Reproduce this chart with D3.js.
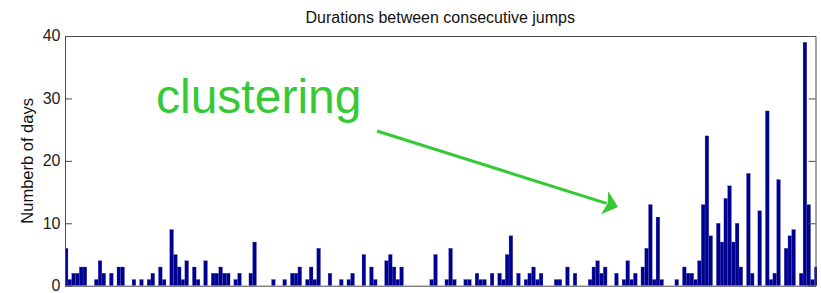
<!DOCTYPE html>
<html>
<head>
<meta charset="utf-8">
<script src="https://cdn.jsdelivr.net/npm/d3@7"></script>
<style>
  body { margin: 0; background: #fff; }
  text { font-family: "Liberation Sans", Arial, sans-serif; }
</style>
</head>
<body>
<div id="wrapper"></div>
<script>
// values, one per bar
const durations = [
  6, 1, 2, 2, 3, 3, 0, 0, 1, 4,
  2, 0, 2, 0, 3, 3, 0, 0, 1, 0,
  1, 0, 1, 2, 0, 3, 1, 0, 9, 5,
  3, 1, 4, 0, 3, 1, 0, 4, 0, 2,
  2, 3, 2, 2, 0, 1, 2, 0, 0, 2,
  7, 0, 0, 0, 0, 1, 0, 0, 1, 0,
  2, 2, 3, 0, 1, 3, 1, 6, 0, 0,
  2, 0, 0, 1, 0, 1, 2, 0, 0, 5,
  0, 3, 1, 0, 0, 4, 5, 3, 1, 3,
  0, 0, 0, 0, 0, 0, 0, 1, 5, 0,
  0, 1, 6, 1, 0, 0, 1, 1, 0, 2,
  1, 1, 0, 2, 0, 2, 1, 5, 8, 0,
  2, 0, 1, 2, 3, 1, 2, 0, 0, 0,
  1, 1, 0, 3, 0, 2, 0, 0, 0, 1,
  3, 4, 2, 3, 0, 0, 2, 0, 1, 4,
  1, 2, 0, 3, 6, 13, 1, 11, 1, 0,
  0, 0, 1, 0, 3, 2, 2, 1, 4, 13,
  24, 8, 0, 10, 7, 14, 16, 7, 10, 3,
  0, 18, 2, 0, 12, 0, 28, 1, 2, 17,
  0, 6, 8, 9, 0, 2, 39, 13, 1, 3
]
const yTicks = [0, 10, 20, 30, 40]
const titleText = "Durations between consecutive jumps"
const yLabelText = "Numberb of days"
const noteText = "clustering"

const dataset = durations.map((v, i) => ({ idx: i + 1, value: v }))

// dimensions
let dimensions = {
  width: 821,
  height: 293,
  margin: { top: 36, right: 5.5, bottom: 7.3, left: 65 },
}
dimensions.boundedWidth = dimensions.width - dimensions.margin.left - dimensions.margin.right
dimensions.boundedHeight = dimensions.height - dimensions.margin.top - dimensions.margin.bottom

const wrapper = d3.select("#wrapper")
  .append("svg")
  .attr("width", dimensions.width)
  .attr("height", dimensions.height)

const bounds = wrapper.append("g")
  .attr("transform", `translate(${dimensions.margin.left},${dimensions.margin.top})`)

// scales
const xScale = d3.scaleLinear()
  .domain([0.71, durations.length - 0.2])
  .range([0, dimensions.boundedWidth])

const yScale = d3.scaleLinear()
  .domain([0, 40])
  .range([dimensions.boundedHeight, 0])

bounds.append("clipPath")
  .attr("id", "plot-clip")
  .append("rect")
  .attr("x", 0)
  .attr("y", -2)
  .attr("width", dimensions.boundedWidth + 1.5)
  .attr("height", dimensions.boundedHeight + 2)

// bars
bounds.append("g")
  .attr("clip-path", "url(#plot-clip)")
  .selectAll("rect")
  .data(dataset.filter(d => d.value > 0))
  .join("rect")
  .attr("x", d => xScale(d.idx - 0.5))
  .attr("width", d => xScale(d.idx + 0.5) - xScale(d.idx - 0.5))
  .attr("y", d => yScale(d.value))
  .attr("height", d => yScale(0) - yScale(d.value))
  .attr("fill", "#00008f")
  .attr("stroke", "#5a5fc0")
  .attr("stroke-width", 0.25)

// axes (MATLAB style: ticks inside, box around)
const axisColor = "#4a4a4a"

const yAxis = bounds.append("g")
  .call(d3.axisLeft(yScale).tickValues(yTicks).tickSizeInner(-7).tickSizeOuter(0).tickPadding(4.5))
yAxis.selectAll("line").attr("stroke", axisColor)
yAxis.select(".domain").attr("stroke", axisColor)
yAxis.selectAll("text")
  .style("font-size", "16px")
  .attr("dy", "0.3em")
  .attr("fill", "#222")

const yAxisRight = bounds.append("g")
  .attr("transform", `translate(${dimensions.boundedWidth},0)`)
  .call(d3.axisRight(yScale).tickValues(yTicks).tickSizeInner(-7).tickSizeOuter(0).tickFormat(""))
yAxisRight.selectAll("line").attr("stroke", axisColor)
yAxisRight.select(".domain").attr("stroke", axisColor)

const xAxis = bounds.append("g")
  .attr("transform", `translate(0,${dimensions.boundedHeight})`)
  .call(d3.axisBottom(xScale).tickValues([]).tickSizeOuter(0))
xAxis.select(".domain").attr("stroke", axisColor)

const xAxisTop = bounds.append("g")
  .call(d3.axisTop(xScale).tickValues([]).tickSizeOuter(0))
xAxisTop.select(".domain").attr("stroke", axisColor)

// title and label
wrapper.append("text")
  .attr("x", dimensions.margin.left + dimensions.boundedWidth / 2)
  .attr("y", 23)
  .attr("text-anchor", "middle")
  .style("font-size", "16px")
  .attr("fill", "#111")
  .text(titleText)

wrapper.append("text")
  .attr("transform", `translate(33,${dimensions.margin.top + dimensions.boundedHeight / 2}) rotate(-90)`)
  .attr("text-anchor", "middle")
  .style("font-size", "16.5px")
  .attr("fill", "#111")
  .text(yLabelText)

// annotation
const green = "#36c936"

wrapper.append("text")
  .attr("x", 156)
  .attr("y", 113)
  .style("font-size", "48px")
  .attr("fill", green)
  .text(noteText)

const arrowFrom = [377, 131]
const arrowTo = [618, 207]
const dx = arrowTo[0] - arrowFrom[0]
const dy = arrowTo[1] - arrowFrom[1]
const len = Math.hypot(dx, dy)
const ux = dx / len, uy = dy / len
const headLen = 14, headHalf = 12
const back = [arrowTo[0] - ux * headLen, arrowTo[1] - uy * headLen]

wrapper.append("line")
  .attr("x1", arrowFrom[0])
  .attr("y1", arrowFrom[1])
  .attr("x2", back[0] + ux * 2)
  .attr("y2", back[1] + uy * 2)
  .attr("stroke", green)
  .attr("stroke-width", 3)

wrapper.append("path")
  .attr("d", d3.line()([
    arrowTo,
    [back[0] - uy * headHalf, back[1] + ux * headHalf],
    [back[0] + ux * 3, back[1] + uy * 3],
    [back[0] + uy * headHalf, back[1] - ux * headHalf],
  ]) + "Z")
  .attr("fill", green)
</script>
</body>
</html>
